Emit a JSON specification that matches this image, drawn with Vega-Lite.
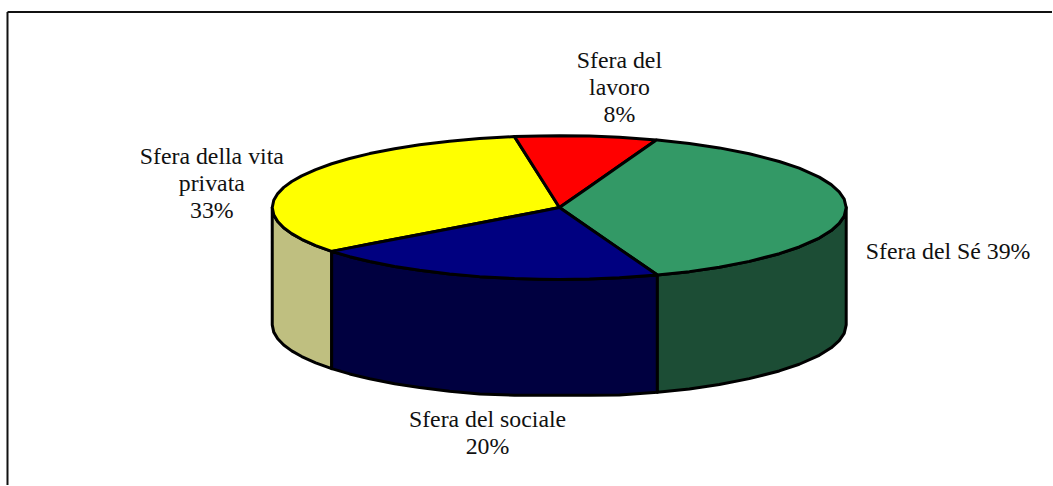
{
  "$schema": "https://vega.github.io/schema/vega-lite/v6.json",
  "width": 1053,
  "height": 486,
  "padding": 0,
  "autosize": {"type": "fit", "contains": "padding"},
  "background": "white",
  "config": {"view": {"stroke": null}},
  "datasets": {
    "frame": [
      {"x": 7.5, "y": 12, "x2": 7.5, "y2": 486},
      {"x": 7.5, "y": 12, "x2": 1053, "y2": 12}
    ],
    "sides": [
      {"face": "Vita privata, lato", "x": 272.5, "y": 208, "y2": 325.5},
      {"face": "Vita privata, lato", "x": 274, "y": 215.3, "y2": 332.8},
      {"face": "Vita privata, lato", "x": 278, "y": 222, "y2": 339.5},
      {"face": "Vita privata, lato", "x": 284, "y": 228.2, "y2": 345.7},
      {"face": "Vita privata, lato", "x": 292, "y": 234.1, "y2": 351.6},
      {"face": "Vita privata, lato", "x": 302, "y": 239.8, "y2": 357.3},
      {"face": "Vita privata, lato", "x": 316, "y": 246.1, "y2": 363.6},
      {"face": "Vita privata, lato", "x": 332, "y": 251.9, "y2": 369.4},
      {"face": "Sociale, lato", "x": 332, "y": 251.9, "y2": 369.4},
      {"face": "Sociale, lato", "x": 350, "y": 257.2, "y2": 374.7},
      {"face": "Sociale, lato", "x": 370, "y": 262.1, "y2": 379.6},
      {"face": "Sociale, lato", "x": 395, "y": 267, "y2": 384.5},
      {"face": "Sociale, lato", "x": 420, "y": 270.9, "y2": 388.4},
      {"face": "Sociale, lato", "x": 450, "y": 274.5, "y2": 392},
      {"face": "Sociale, lato", "x": 480, "y": 277.2, "y2": 394.7},
      {"face": "Sociale, lato", "x": 515, "y": 279.1, "y2": 396},
      {"face": "Sociale, lato", "x": 540, "y": 279.8, "y2": 396},
      {"face": "Sociale, lato", "x": 560, "y": 280, "y2": 396},
      {"face": "Sociale, lato", "x": 590, "y": 279.6, "y2": 396},
      {"face": "Sociale, lato", "x": 620, "y": 278.4, "y2": 395.9},
      {"face": "Sociale, lato", "x": 658, "y": 275.6, "y2": 393.1},
      {"face": "Sé, lato", "x": 658, "y": 275.6, "y2": 393.1},
      {"face": "Sé, lato", "x": 690, "y": 272.2, "y2": 389.7},
      {"face": "Sé, lato", "x": 720, "y": 267.8, "y2": 385.3},
      {"face": "Sé, lato", "x": 750, "y": 261.9, "y2": 379.4},
      {"face": "Sé, lato", "x": 780, "y": 254.2, "y2": 371.7},
      {"face": "Sé, lato", "x": 800, "y": 247.5, "y2": 365},
      {"face": "Sé, lato", "x": 820, "y": 238.5, "y2": 356},
      {"face": "Sé, lato", "x": 832, "y": 231, "y2": 348.5},
      {"face": "Sé, lato", "x": 840, "y": 223.8, "y2": 341.3},
      {"face": "Sé, lato", "x": 845, "y": 216.5, "y2": 334},
      {"face": "Sé, lato", "x": 847, "y": 208, "y2": 325.5}
    ],
    "tops": [
      {"face": "Vita privata", "x": 272.5, "y": 208, "y2": 208},
      {"face": "Vita privata", "x": 274, "y": 200.7, "y2": 215.3},
      {"face": "Vita privata", "x": 278, "y": 194, "y2": 222},
      {"face": "Vita privata", "x": 284, "y": 187.8, "y2": 228.2},
      {"face": "Vita privata", "x": 292, "y": 181.9, "y2": 234.1},
      {"face": "Vita privata", "x": 302, "y": 176.2, "y2": 239.8},
      {"face": "Vita privata", "x": 316, "y": 169.9, "y2": 246.1},
      {"face": "Vita privata", "x": 332, "y": 164.1, "y2": 251.9},
      {"face": "Vita privata", "x": 350, "y": 158.8, "y2": 248.4},
      {"face": "Vita privata", "x": 370, "y": 153.9, "y2": 244.6},
      {"face": "Vita privata", "x": 395, "y": 149, "y2": 239.8},
      {"face": "Vita privata", "x": 420, "y": 145.1, "y2": 235},
      {"face": "Vita privata", "x": 450, "y": 141.5, "y2": 229.2},
      {"face": "Vita privata", "x": 480, "y": 138.8, "y2": 223.4},
      {"face": "Vita privata", "x": 515, "y": 136.9, "y2": 216.7},
      {"face": "Vita privata", "x": 540, "y": 176.4, "y2": 211.9},
      {"face": "Vita privata", "x": 560, "y": 208, "y2": 208},
      {"face": "Lavoro", "x": 515, "y": 136.9, "y2": 136.9},
      {"face": "Lavoro", "x": 540, "y": 136.2, "y2": 176.4},
      {"face": "Lavoro", "x": 560, "y": 136, "y2": 208},
      {"face": "Lavoro", "x": 590, "y": 136.4, "y2": 187.1},
      {"face": "Lavoro", "x": 620, "y": 137.6, "y2": 166},
      {"face": "Lavoro", "x": 657, "y": 140.3, "y2": 140.3},
      {"face": "Sé", "x": 560, "y": 208, "y2": 208},
      {"face": "Sé", "x": 590, "y": 187.1, "y2": 228.7},
      {"face": "Sé", "x": 620, "y": 166, "y2": 249.4},
      {"face": "Sé", "x": 657, "y": 140.3, "y2": 274.9},
      {"face": "Sé", "x": 658, "y": 140.4, "y2": 275.6},
      {"face": "Sé", "x": 690, "y": 143.8, "y2": 272.2},
      {"face": "Sé", "x": 720, "y": 148.2, "y2": 267.8},
      {"face": "Sé", "x": 750, "y": 154.1, "y2": 261.9},
      {"face": "Sé", "x": 780, "y": 161.8, "y2": 254.2},
      {"face": "Sé", "x": 800, "y": 168.5, "y2": 247.5},
      {"face": "Sé", "x": 820, "y": 177.5, "y2": 238.5},
      {"face": "Sé", "x": 832, "y": 185, "y2": 231},
      {"face": "Sé", "x": 840, "y": 192.2, "y2": 223.8},
      {"face": "Sé", "x": 845, "y": 199.5, "y2": 216.5},
      {"face": "Sé", "x": 847, "y": 208, "y2": 208},
      {"face": "Sociale", "x": 332, "y": 251.9, "y2": 251.9},
      {"face": "Sociale", "x": 350, "y": 248.4, "y2": 257.2},
      {"face": "Sociale", "x": 370, "y": 244.6, "y2": 262.1},
      {"face": "Sociale", "x": 395, "y": 239.8, "y2": 267},
      {"face": "Sociale", "x": 420, "y": 235, "y2": 270.9},
      {"face": "Sociale", "x": 450, "y": 229.2, "y2": 274.5},
      {"face": "Sociale", "x": 480, "y": 223.4, "y2": 277.2},
      {"face": "Sociale", "x": 515, "y": 216.7, "y2": 279.1},
      {"face": "Sociale", "x": 540, "y": 211.9, "y2": 279.8},
      {"face": "Sociale", "x": 560, "y": 208, "y2": 280},
      {"face": "Sociale", "x": 590, "y": 228.7, "y2": 279.6},
      {"face": "Sociale", "x": 620, "y": 249.4, "y2": 278.4},
      {"face": "Sociale", "x": 658, "y": 275.6, "y2": 275.6}
    ],
    "labels": [
      {"label": "Sfera del\nlavoro\n8%", "x": 620, "y": 68},
      {"label": "Sfera del Sé 39%", "x": 949, "y": 260},
      {"label": "Sfera del sociale\n20%", "x": 488, "y": 428},
      {"label": "Sfera della vita\nprivata\n33%", "x": 212, "y": 164}
    ]
  },
  "layer": [
    {
      "data": {"name": "frame"},
      "mark": {"type": "rule", "stroke": "#111111", "strokeWidth": 2},
      "encoding": {
        "x": {"field": "x", "type": "quantitative", "scale": {"domain": [0, 1053]}, "axis": null},
        "y": {"field": "y", "type": "quantitative", "scale": {"domain": [486, 0]}, "axis": null},
        "x2": {"field": "x2"},
        "y2": {"field": "y2"}
      }
    },
    {
      "data": {"name": "sides"},
      "mark": {"type": "area", "stroke": "black", "strokeWidth": 3, "strokeJoin": "round"},
      "encoding": {
        "x": {"field": "x", "type": "quantitative", "scale": {"domain": [0, 1053]}, "axis": null},
        "y": {"field": "y", "type": "quantitative", "scale": {"domain": [486, 0]}, "axis": null},
        "y2": {"field": "y2"},
        "color": {
          "field": "face",
          "type": "nominal",
          "legend": null,
          "scale": {
            "domain": ["Vita privata, lato", "Sociale, lato", "Sé, lato", "Vita privata", "Lavoro", "Sé", "Sociale"],
            "range": ["#BFBF80", "#000040", "#1C4D35", "#FFFF00", "#FF0000", "#339966", "#000080"]
          }
        }
      }
    },
    {
      "data": {"name": "tops"},
      "mark": {"type": "area", "stroke": "black", "strokeWidth": 3, "strokeJoin": "round"},
      "encoding": {
        "x": {"field": "x", "type": "quantitative", "scale": {"domain": [0, 1053]}, "axis": null},
        "y": {"field": "y", "type": "quantitative", "scale": {"domain": [486, 0]}, "axis": null},
        "y2": {"field": "y2"},
        "color": {
          "field": "face",
          "type": "nominal",
          "legend": null,
          "scale": {
            "domain": ["Vita privata, lato", "Sociale, lato", "Sé, lato", "Vita privata", "Lavoro", "Sé", "Sociale"],
            "range": ["#BFBF80", "#000040", "#1C4D35", "#FFFF00", "#FF0000", "#339966", "#000080"]
          }
        }
      }
    },
    {
      "data": {"name": "labels"},
      "mark": {
        "type": "text",
        "font": "Liberation Serif",
        "fontSize": 23.8,
        "lineHeight": 27,
        "lineBreak": "\n",
        "align": "center",
        "baseline": "alphabetic",
        "color": "#111111"
      },
      "encoding": {
        "x": {"field": "x", "type": "quantitative", "scale": {"domain": [0, 1053]}, "axis": null},
        "y": {"field": "y", "type": "quantitative", "scale": {"domain": [486, 0]}, "axis": null},
        "text": {"field": "label"}
      }
    }
  ]
}
